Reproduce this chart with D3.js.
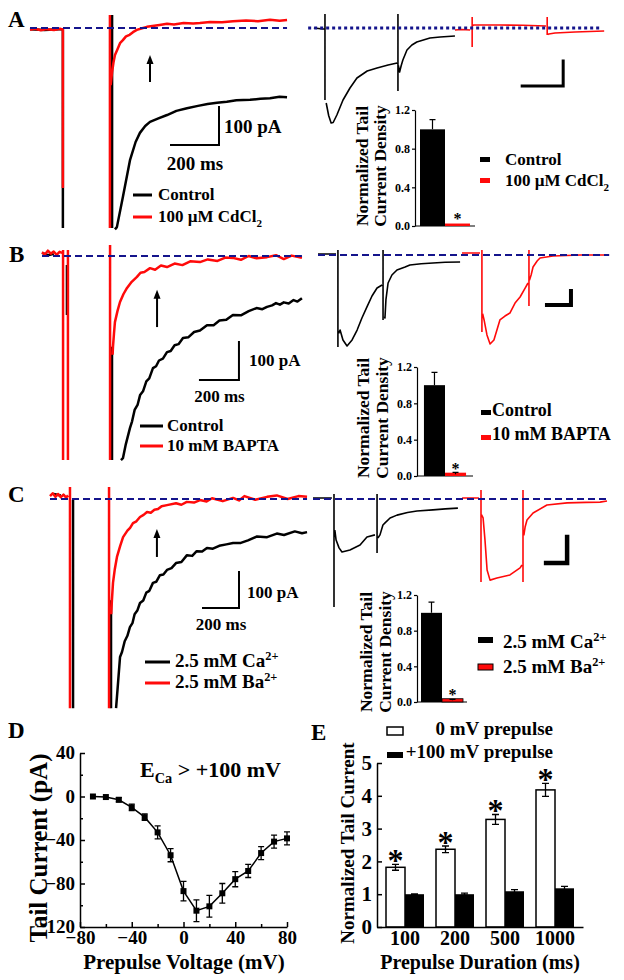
<!DOCTYPE html>
<html><head><meta charset="utf-8">
<script src="https://cdn.jsdelivr.net/npm/d3@7"></script>
<style>
body{margin:0;background:#fff;overflow:hidden}
text{font-family:"Liberation Serif","Times New Roman",serif;font-weight:bold;fill:#000}
</style>
</head><body><script>
// ================= DATA =================
// Traces: [time (ms), current (pA)], null = gap in recording
const aLeftCtrl = [[0,-3],[60,-5],[120,-3],[137,-3],null,[137,-3],[137,-526],null,[342,34],[342,-526],null,
  [354,-530],[362,-524],[387,-445],[417,-347],[440,-300],[458,-276],[480,-258],[500,-247],[535,-238],[571,-229],[610,-218],[654,-211],[700,-205],[740,-200],[779,-197],[820,-194],[860,-190],[917,-189],[960,-186],[1000,-185],[1040,-181],[1071,-182]];
const aLeftCd = [[0,-5],[20,-2],[45,-6],[70,-3],[100,-5],[125,-2],[133,-4],null,[137,0],[137,-421],null,[333,34],[333,-526],null,
  [336,-150],[342,-116],[348,-90],[354,-71],[365,-55],[375,-40],[387,-32],[400,-22],[415,-18],[429,-11],[445,-5],[460,-2],[487,3],[510,5],[540,8],[571,11],[600,9],[640,13],[680,12],[708,13],[750,16],[800,15],[846,18],[900,20],[950,18],[1000,22],[1040,19],[1071,21]];
const aRightCtrl = [[-10,0],[12,-4],[17,-4],null,[17,56],[17,-288],null,[20,-300],[26,-350],[32,-380],[37,-378],[46,-348],[61,-288],[78,-240],[95,-200],[120,-172],[144,-160],[171,-148],[193,-140],null,[195,56],[195,-252],null,
  [196,-150],[199,-176],[203,-150],[207,-128],[217,-88],[229,-68],[241,-56],[273,-40],[298,-36],[334,-32]];
const aRightCd = [[334,-8],[350,-6],[371,-8],null,[376,44],[376,-76],null,[378,10],[380,12],[444,12],[500,11],[556,8],null,[559,44],[559,-28],null,
  [561,-26],[563,-24],[578,-20],[627,-16],[698,-12]];

const bLeftCtrl = [[0,8],[30,2],[60,6],null,[128,-24],[128,-155],null,[359,-239],[359,-537],null,
  [405,-537],[415,-532],[430,-495],[451,-453],[462,-435],[475,-405],[490,-392],[503,-366],[518,-356],[535,-330],[550,-322],[569,-295],[585,-290],[600,-275],[620,-270],[641,-253],[660,-250],[680,-235],[700,-232],[723,-216],[750,-214],[780,-200],[810,-196],[846,-182],[880,-182],[910,-170],[945,-168],[979,-155],[1020,-156],[1060,-145],[1100,-137],[1130,-140],[1154,-134],[1180,-130],[1200,-124],[1220,-128],[1240,-122],[1265,-125],[1290,-116],[1310,-120],[1333,-111]];
const bLeftBapta = [[0,10],[15,4],[30,14],[45,6],[60,12],[75,3],[90,11],[103,8],null,[108,16],[108,-537],null,[133,16],[133,-537],null,[349,29],[349,-537],null,
  [362,-260],[364,-239],[369,-205],[374,-174],[387,-145],[400,-121],[418,-100],[436,-84],[460,-68],[487,-55],[505,-44],[525,-42],[554,-32],[580,-36],[610,-25],[641,-29],[680,-20],[720,-24],[760,-14],[810,-16],[850,-9],[900,-13],[940,-4],[979,-5],[1020,-10],[1060,0],[1100,-6],[1154,-3],[1200,2],[1240,-8],[1280,1],[1333,-5]];
const bRightCtrl = [[0,7],[75,7],null,[83,36],[83,-657],null,[86,-560],[92,-536],[104,-607],[121,-650],[142,-607],[163,-536],[183,-450],[204,-371],[225,-293],[246,-236],[267,-214],null,[271,36],[271,-464],null,
  [277,-440],[279,-450],[283,-321],[292,-200],[308,-143],[329,-107],[363,-86],[383,-71],[430,-62],[479,-57],[530,-52],[592,-50]];
const bRightBapta = [[600,14],[675,14],null,[683,36],[683,-550],null,[686,-420],[692,-464],[704,-571],[717,-636],[733,-607],[758,-464],[779,-436],[800,-414],[821,-343],[842,-300],[863,-236],[875,-200],null,[879,36],[879,-364],null,
  [881,-180],[888,-143],[896,-86],[913,-43],[925,-21],[979,-7],[1092,0],[1213,0]];

const cLeftCa = [[20,14],[60,10],null,[128,-3],[128,-581],null,[339,-281],[339,-581],null,
  [367,-581],[375,-530],[389,-439],[400,-425],[415,-395],[430,-380],[444,-356],[458,-345],[470,-320],[485,-310],[500,-289],[518,-282],[535,-260],[552,-255],[572,-233],[590,-230],[610,-212],[630,-210],[650,-197],[675,-192],[700,-178],[730,-175],[761,-156],[790,-158],[815,-145],[845,-146],[872,-136],[905,-138],[940,-130],[980,-126],[1017,-122],[1060,-122],[1100,-115],[1150,-104],[1206,-106],[1260,-96],[1300,-100],[1360,-90],[1400,-95],[1428,-92]];
const cLeftBa = [[0,8],[15,16],[30,6],[45,14],[60,5],[75,12],[90,4],[100,10],null,[111,33],[111,-581],null,[328,33],[328,-581],null,
  [340,-320],[344,-281],[350,-233],[360,-195],[372,-161],[390,-130],[406,-106],[430,-88],[445,-80],[461,-67],[480,-62],[500,-50],[520,-44],[539,-36],[560,-38],[580,-30],[600,-28],[620,-20],[650,-17],[700,-12],[730,-16],[760,-8],[800,-10],[833,-3],[870,-7],[900,2],[960,-6],[1017,3],[1050,-4],[1080,8],[1140,-2],[1206,6],[1260,10],[1320,0],[1380,8],[1428,6]];
const cRightCa = [[0,4],[90,4],null,[100,19],[100,-415],null,[104,-120],[110,-158],[124,-188],[138,-204],[176,-196],[224,-177],[257,-146],[295,-138],null,[305,19],[305,-208],null,
  [309,-150],[319,-138],[333,-100],[343,-92],[367,-73],[400,-62],[450,-52],[495,-46],[571,-42],[630,-38],[690,-35]];
const cRightBa = [[710,4],[790,4],null,[800,35],[800,-319],null,[802,-60],[810,-73],[819,-158],[829,-273],[843,-312],[876,-304],[938,-292],[986,-265],[995,-254],null,[1000,35],[1000,-319],null,
  [1004,-140],[1010,-108],[1019,-81],[1048,-54],[1114,-23],[1210,-15],[1300,-13],[1367,-12],[1400,-8]];

// Inset bar charts (normalized tail current density)
const insetTicks = [0, 0.4, 0.8, 1.2];
const insetAVals = [1.0, 0.01], insetAErr = [0.1, 0];
const insetBVals = [1.0, 0.02], insetBErr = [0.14, 0.02];
const insetCVals = [1.0, 0.02], insetCErr = [0.12, 0.01];

// Panel D: I-V of tail current
const dVoltage = [-70,-60,-50,-40,-30,-20,-10,0,10,20,30,40,50,60,70,80];
const dCurrent = [0,-0.5,-3,-10,-19,-33,-54,-87,-105,-101,-89,-76,-68.5,-52,-41.5,-38.5];
const dError   = [1,1,2,3,3,6,6,9,10,10,9,7,6,6,6,6];
const dXTicks = [-80,-40,0,40,80], dYTicks = [-120,-80,-40,0,40];

// Panel E: normalized tail current vs prepulse duration
const eDurations = ["100","200","500","1000"];
const e0mV = [1.82,2.37,3.28,4.18], e0mVErr = [0.09,0.1,0.15,0.2];
const e100mV = [1.0,1.0,1.09,1.18], e100mVErr = [0.01,0.03,0.05,0.06];
const eYTicks = [0,1,2,3,4,5];

// ================= DRAWING =================
const RED = "#ff0a0a", NAVY = "#14148c";
const svg = d3.select("body").append("svg").attr("width",624).attr("height",980);

function rich(g, x, y, parts, size, anchor) {
  const t = g.append("text").attr("x",x).attr("y",y).attr("font-size",size).attr("text-anchor",anchor||"start");
  let pending = 0;
  parts.forEach(p => {
    if (typeof p === "string") { t.append("tspan").attr("dy", pending).text(p); pending = 0; return; }
    const sh = p.sub ? 0.28*size : -0.38*size;
    t.append("tspan").attr("font-size", size*0.65).attr("dy", sh + pending).text(p.t);
    pending = -sh;
  });
  return t;
}
function label(x, y, s, size) {
  svg.append("text").attr("x",x).attr("y",y).attr("font-size",size).text(s);
}

function tracePanel(p) {
  const x = d3.scaleLinear().domain([0,1000]).range([p.x0, p.x0 + 1000*p.pxMs]);
  const y = d3.scaleLinear().domain([0,-1000]).range([p.y0, p.y0 + 1000*p.pxPA]);
  const line = d3.line().defined(d => d !== null).x(d => x(d[0])).y(d => y(d[1]));
  const g = svg.append("g");
  p.traces.forEach(tr => g.append("path").attr("d", line(tr.data)).attr("fill","none")
    .attr("stroke", tr.color).attr("stroke-width", tr.w).attr("stroke-linejoin","round"));
  g.append("line").attr("x1", x(p.zero[0])).attr("x2", x(p.zero[1])).attr("y1", y(0)).attr("y2", y(0))
    .attr("stroke", NAVY).attr("stroke-width", p.zeroW).attr("stroke-dasharray", p.dash);
  if (p.bar) {
    const b = p.bar;
    g.append("path").attr("d", d3.line()([[x(b.t), y(b.pA)], [x(b.t+b.ms), y(b.pA)], [x(b.t+b.ms), y(b.pA+b.pa)]]))
      .attr("fill","none").attr("stroke","#000").attr("stroke-width", b.w).attr("stroke-linecap","square");
    if (b.labels) {
      g.append("text").attr("x", x(b.t+b.ms) + b.labels.dxA).attr("y", (y(b.pA)+y(b.pA+b.pa))/2 + b.labels.dyA)
        .attr("font-size", b.labels.size).text("100 pA");
      g.append("text").attr("x", (x(b.t)+x(b.t+b.ms))/2).attr("y", y(b.pA) + b.labels.dyT)
        .attr("text-anchor","middle").attr("font-size", b.labels.size).text("200 ms");
    }
  }
  if (p.arrow) {
    const a = p.arrow, ax = x(a.t), y1 = y(a.from), y2 = y(a.to);
    g.append("line").attr("x1",ax).attr("x2",ax).attr("y1",y1).attr("y2",y2+6).attr("stroke","#000").attr("stroke-width",2);
    g.append("path").attr("d", `M${ax},${y2}L${ax-3.5},${y2+9}L${ax+3.5},${y2+9}Z`).attr("fill","#000");
  }
}

// Panel A
tracePanel({x0:30, y0:28, pxMs:0.24, pxPA:0.38, zero:[0,1071], zeroW:2, dash:"7 4",
  traces:[{data:aLeftCtrl,color:"#000",w:2.5},{data:aLeftCd,color:RED,w:2.5}],
  bar:{t:587.5, pA:-308, ms:200, pa:100, w:2, labels:{dxA:5, dyA:7, dyT:25, size:19}},
  arrow:{t:500, from:-142, to:-71}});
tracePanel({x0:318, y0:28, pxMs:0.41, pxPA:0.25, zero:[-24,693], zeroW:3, dash:"3 3",
  traces:[{data:aRightCtrl,color:"#000",w:1.6},{data:aRightCd,color:RED,w:1.6}],
  bar:{t:498, pA:-232, ms:100, pa:100, w:3}});
// Panel B
tracePanel({x0:42, y0:256, pxMs:0.195, pxPA:0.38, zero:[0,1333], zeroW:2, dash:"7 4",
  traces:[{data:bLeftCtrl,color:"#000",w:2.5},{data:bLeftBapta,color:RED,w:2.5}],
  bar:{t:810, pA:-326, ms:200, pa:100, w:2, labels:{dxA:10, dyA:5, dyT:22, size:17}},
  arrow:{t:590, from:-187, to:-89}});
tracePanel({x0:318, y0:255, pxMs:0.24, pxPA:0.14, zero:[0,1213], zeroW:2, dash:"7 4",
  traces:[{data:bRightCtrl,color:"#000",w:1.6},{data:bRightBapta,color:RED,w:1.6}],
  bar:{t:954, pA:-357, ms:100, pa:100, w:4}});
// Panel C
tracePanel({x0:50, y0:499, pxMs:0.18, pxPA:0.36, zero:[0,1428], zeroW:2, dash:"7 4",
  traces:[{data:cLeftCa,color:"#000",w:2.5},{data:cLeftBa,color:RED,w:2.5}],
  bar:{t:850, pA:-303, ms:200, pa:100, w:2, labels:{dxA:8, dyA:8, dyT:22, size:17}},
  arrow:{t:594, from:-161, to:-83}});
tracePanel({x0:313, y0:499, pxMs:0.21, pxPA:0.26, zero:[0,1400], zeroW:2, dash:"7 4",
  traces:[{data:cRightCa,color:"#000",w:1.6},{data:cRightBa,color:RED,w:1.6}],
  bar:{t:1110, pA:-246, ms:100, pa:100, w:4.5}});

// Panel letters
label(8,27,"A",23); label(9,262,"B",23); label(8,502,"C",23); label(8,738,"D",23); label(311,740,"E",23);

// Left legends
function lineLegend(x1, x2, yl, tx, size, items) {
  items.forEach((it, i) => {
    svg.append("line").attr("x1",x1).attr("x2",x2).attr("y1",yl[i]).attr("y2",yl[i]).attr("stroke",it.c).attr("stroke-width",3);
    rich(svg, tx, yl[i]+5, it.parts, size);
  });
}
lineLegend(133,152,[195,217],158,17,[{c:"#000",parts:["Control"]},{c:RED,parts:["100 µM CdCl",{t:"2",sub:true}]}]);
lineLegend(140,163,[426,446],167,17,[{c:"#000",parts:["Control"]},{c:RED,parts:["10 mM BAPTA"]}]);
lineLegend(145,170,[662,683],175,19,[{c:"#000",parts:["2.5 mM Ca",{t:"2+"}]},{c:RED,parts:["2.5 mM Ba",{t:"2+"}]}]);

function styleAxis(a, size, w) {
  a.selectAll("text").attr("font-size",size).style("font-family",'"Liberation Serif",serif').style("font-weight","bold");
  a.selectAll("line,path").attr("stroke","#000").attr("stroke-width",w||1.5);
}

// Insets
function inset(cfg) {
  const g = svg.append("g");
  const y = d3.scaleLinear().domain([0,1.2]).range(cfg.yr);
  const x = d3.scaleBand().domain([0,1]).range(cfg.xr).paddingInner(0).paddingOuter(cfg.po);
  g.append("g").attr("transform",`translate(${cfg.xr[0]},0)`)
    .call(d3.axisLeft(y).tickValues(insetTicks).tickFormat(d3.format(".1f")).tickSize(3).tickSizeOuter(0).tickPadding(2))
    .call(a => styleAxis(a, 12, 1.2));
  g.append("line").attr("x1",cfg.xr[0]).attr("x2",cfg.xr[1]).attr("y1",y(0)).attr("y2",y(0)).attr("stroke","#000").attr("stroke-width",1.2);
  cfg.vals.forEach((v,i) => {
    const bx = x(i), bw = x.bandwidth();
    g.append("rect").attr("x",bx).attr("y",y(v)-(i===1?1.5:0)).attr("width",bw).attr("height",Math.max(y(0)-y(v),0)+(i===1?1.5:0))
      .attr("fill", i===0 ? "#000" : RED).attr("stroke", i===1 && cfg.outline ? "#000" : "none").attr("stroke-width",0.8);
    if (cfg.err[i] > 0) {
      const cx = bx + bw/2;
      g.append("path").attr("d",`M${cx},${y(v)}V${y(v+cfg.err[i])}M${cx-3},${y(v+cfg.err[i])}H${cx+3}`).attr("stroke","#000").attr("stroke-width",1.2).attr("fill","none");
    }
  });
  g.append("text").attr("x", x(1)+x.bandwidth()/2).attr("y", y(0)-2).attr("text-anchor","middle").attr("font-size",16).text("*");
  [["Normalized Tail",cfg.tx[0]],["Current Density",cfg.tx[1]]].forEach(([s,tx]) => {
    g.append("text").attr("transform",`translate(${tx},${cfg.tcy}) rotate(-90)`).attr("text-anchor","middle")
      .attr("dy","0.35em").attr("font-size",17.5).text(s);
  });
  cfg.legend.forEach((L,i) => {
    g.append("rect").attr("x",L.mx).attr("y",L.my).attr("width",L.mw).attr("height",L.mh)
      .attr("fill", i===0 ? "#000" : RED).attr("stroke", i===1 && cfg.outline ? "#000" : "none").attr("stroke-width",1);
    rich(g, L.tx, L.ty, L.parts, L.size);
  });
}
inset({yr:[226,110], xr:[415,475], po:0.2, vals:insetAVals, err:insetAErr, tx:[362,380], tcy:166, outline:false,
  legend:[{mx:480,my:157,mw:10,mh:5,tx:505,ty:165,size:17,parts:["Control"]},
          {mx:480,my:178,mw:10,mh:5,tx:505,ty:186,size:17,parts:["100 µM CdCl",{t:"2",sub:true}]}]});
inset({yr:[476,367], xr:[417,473], po:0.33, vals:insetBVals, err:insetBErr, tx:[363,382], tcy:418, outline:false,
  legend:[{mx:481,my:410,mw:10,mh:5,tx:492,ty:416,size:18,parts:["Control"]},
          {mx:481,my:435,mw:10,mh:5,tx:492,ty:440,size:18,parts:["10 mM BAPTA"]}]});
inset({yr:[702,595], xr:[417,467], po:0.19, vals:insetCVals, err:insetCErr, tx:[366,385], tcy:652, outline:true,
  legend:[{mx:478,my:637,mw:15,mh:6,tx:503,ty:648,size:19,parts:["2.5 mM Ca",{t:"2+"}]},
          {mx:478,my:664,mw:15,mh:6,tx:503,ty:673,size:19,parts:["2.5 mM Ba",{t:"2+"}]}]});

// Panel D
{
  const x = d3.scaleLinear().domain([-80,80]).range([80,287]);
  const y = d3.scaleLinear().domain([-120,40]).range([927,753]);
  const g = svg.append("g");
  g.append("g").attr("transform","translate(0,927)")
    .call(d3.axisBottom(x).tickValues(dXTicks).tickFormat(d3.format("d")).tickSize(-5).tickSizeOuter(0).tickPadding(4))
    .call(a => styleAxis(a,19));
  g.append("g").attr("transform","translate(80,0)")
    .call(d3.axisLeft(y).tickValues(dYTicks).tickFormat(d3.format("d")).tickSize(-5).tickSizeOuter(0).tickPadding(5))
    .call(a => styleAxis(a,19))
    .call(a => a.selectAll("text").attr("dy","0.3em"));
  g.append("g").attr("transform","translate(0,927)").call(d3.axisBottom(x).tickValues([-60,-20,20,60]).tickSize(-3).tickSizeOuter(0))
    .call(a=>{ styleAxis(a,19); a.select(".domain").remove(); a.selectAll("text").remove(); });
  g.append("g").attr("transform","translate(80,0)").call(d3.axisLeft(y).tickValues([-100,-60,-20,20]).tickSize(-3).tickSizeOuter(0))
    .call(a=>{ styleAxis(a,19); a.select(".domain").remove(); a.selectAll("text").remove(); });
  const pts = dVoltage.map((v,i) => [v, dCurrent[i], dError[i]]);
  g.append("path").attr("d", d3.line().x(d=>x(d[0])).y(d=>y(d[1]))(pts)).attr("fill","none").attr("stroke","#000").attr("stroke-width",1.5);
  pts.forEach(d => {
    const cx = x(d[0]), t = y(d[1]+d[2]), b = y(d[1]-d[2]);
    if (d[2] > 1.5) g.append("path").attr("d",`M${cx},${t}V${b}M${cx-3},${t}H${cx+3}M${cx-3},${b}H${cx+3}`).attr("stroke","#000").attr("stroke-width",1.3).attr("fill","none");
    g.append("rect").attr("x",cx-3).attr("y",y(d[1])-3).attr("width",6).attr("height",6).attr("fill","#000");
  });
  g.append("text").attr("x",184).attr("y",969).attr("text-anchor","middle").attr("font-size",21).text("Prepulse Voltage (mV)");
  g.append("text").attr("transform","translate(38,848) rotate(-90)").attr("text-anchor","middle").attr("dy","0.35em").attr("font-size",25).text("Tail Current (pA)");
  rich(g, 140, 777, ["E",{t:"Ca",sub:true}," > +100 mV"], 22);
}

// Panel E
{
  const x = d3.scaleBand().domain(eDurations).range([377,583]).paddingInner(0.24).paddingOuter(0.18);
  const y = d3.scaleLinear().domain([0,5]).range([927,763]);
  const g = svg.append("g");
  const bw = x.bandwidth()/2;
  eDurations.forEach((c,i) => {
    const x0 = x(c);
    g.append("rect").attr("x",x0).attr("y",y(e0mV[i])).attr("width",bw).attr("height",y(0)-y(e0mV[i])).attr("fill","#fff").attr("stroke","#000").attr("stroke-width",1.5);
    g.append("rect").attr("x",x0+bw).attr("y",y(e100mV[i])).attr("width",bw).attr("height",y(0)-y(e100mV[i])).attr("fill","#000");
    [[x0+bw/2,e0mV[i],e0mVErr[i]],[x0+1.5*bw,e100mV[i],e100mVErr[i]]].forEach(([cx,v,e]) => {
      g.append("path").attr("d",`M${cx},${y(v-e)}V${y(v+e)}M${cx-3.5},${y(v-e)}H${cx+3.5}M${cx-3.5},${y(v+e)}H${cx+3.5}`).attr("stroke","#000").attr("stroke-width",1.3).attr("fill","none");
    });
    g.append("text").attr("x",x0+bw/2).attr("y",y(e0mV[i]+e0mVErr[i])+7).attr("text-anchor","middle").attr("font-size",32).text("*");
  });
  g.append("g").attr("transform","translate(0,927)").call(d3.axisBottom(x).tickSize(0).tickSizeOuter(0).tickPadding(4)).call(a=>styleAxis(a,20));
  g.append("g").attr("transform","translate(377,0)").call(d3.axisLeft(y).tickValues(eYTicks).tickFormat(d3.format("d")).tickSize(-5).tickSizeOuter(0).tickPadding(5)).call(a=>styleAxis(a,21));
  g.append("text").attr("x",480).attr("y",969).attr("text-anchor","middle").attr("font-size",20).text("Prepulse Duration (ms)");
  g.append("text").attr("transform","translate(347,843) rotate(-90)").attr("text-anchor","middle").attr("dy","0.35em").attr("font-size",19).text("Normalized Tail Current");
  g.append("rect").attr("x",387).attr("y",727).attr("width",16).attr("height",8).attr("fill","#fff").attr("stroke","#000").attr("stroke-width",1.5);
  g.append("text").attr("x",553).attr("y",735).attr("text-anchor","end").attr("font-size",19).text("0 mV prepulse");
  g.append("rect").attr("x",387).attr("y",752).attr("width",16).attr("height",6).attr("fill","#000");
  g.append("text").attr("x",553).attr("y",758).attr("text-anchor","end").attr("font-size",19).text("+100 mV prepulse");
}
</script></body></html>
